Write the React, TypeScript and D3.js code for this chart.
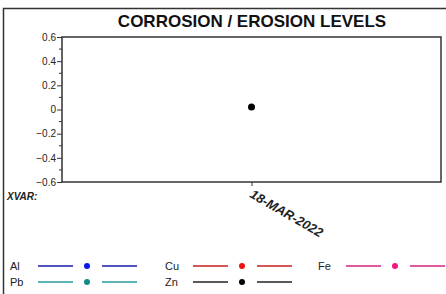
import React, { useRef, useEffect } from 'react';
import * as d3 from 'd3';

const dates = ['18-MAR-2022'];
const values = [0.02];
const yTicks = [-0.6, -0.4, -0.2, 0, 0.2, 0.4, 0.6];
const legendNames = ['Al', 'Cu', 'Fe', 'Pb', 'Zn'];
const legendLineColors = ['#1a1aa8', '#c81e1e', '#d6247a', '#2a9a98', '#222222'];
const legendDotColors = ['#0a14f0', '#f01010', '#f0167e', '#128a88', '#000000'];

const App = () => {
  const svgRef = useRef<SVGSVGElement>(null);

  useEffect(() => {
    const width = 446;
    const height = 294;
    const margin = { top: 37, right: 5, bottom: 112, left: 62 };

    const svg = d3.select(svgRef.current);
    svg.selectAll('*').remove();
    svg.attr('width', width).attr('height', height);

    // outer frame
    svg.append('rect')
      .attr('x', 3.5).attr('y', 8.5)
      .attr('width', width + 10).attr('height', height + 10)
      .attr('fill', 'none').attr('stroke', '#333').attr('stroke-width', 1.5);

    // title
    svg.append('text')
      .attr('x', 252).attr('y', 27)
      .attr('text-anchor', 'middle')
      .attr('font-family', 'Liberation Sans, Arial, sans-serif')
      .attr('font-weight', 'bold')
      .attr('font-size', 17)
      .attr('fill', '#111')
      .text('CORROSION / EROSION LEVELS');

    const x0 = margin.left;
    const x1 = width - margin.right;
    const y0 = margin.top;
    const y1 = height - margin.bottom;

    const x = d3.scalePoint().domain(dates).range([x0, x1]).padding(0.5);
    const y = d3.scaleLinear().domain([-0.6, 0.6]).range([y1, y0]);

    // plot frame
    svg.append('rect')
      .attr('x', x0).attr('y', y0)
      .attr('width', x1 - x0).attr('height', y1 - y0)
      .attr('fill', 'none').attr('stroke', '#333').attr('stroke-width', 1.5);

    // y axis
    const yAxis = svg.append('g')
      .attr('transform', `translate(${x0},0)`)
      .call(d3.axisLeft(y).tickValues(yTicks).tickSize(5).tickPadding(1)
        .tickFormat(d => (d === 0 ? '0' : d3.format('.1f')(d as number))));
    yAxis.select('.domain').remove();
    yAxis.selectAll('line').attr('stroke', '#333');
    yAxis.selectAll('text')
      .attr('font-family', 'Liberation Sans, Arial, sans-serif')
      .attr('font-size', 10).attr('fill', '#222');

    // minor ticks
    svg.append('g')
      .selectAll('line')
      .data(d3.range(-5, 6, 2).map(i => i / 10))
      .join('line')
      .attr('x1', x0 - 3).attr('x2', x0)
      .attr('y1', d => y(d)).attr('y2', d => y(d))
      .attr('stroke', '#333');

    // x axis
    const xAxis = svg.append('g')
      .attr('transform', `translate(0,${y1})`)
      .call(d3.axisBottom(x).tickSize(4).tickPadding(8));
    xAxis.select('.domain').remove();
    xAxis.selectAll('line').attr('stroke', '#333');
    xAxis.selectAll('text')
      .attr('font-family', 'Liberation Sans, Arial, sans-serif')
      .attr('font-size', 13)
      .attr('font-weight', 'bold')
      .attr('font-style', 'italic')
      .attr('letter-spacing', 0)
      .attr('fill', '#222')
      .attr('text-anchor', 'start')
      .attr('dy', '0.3em')
      .attr('transform', 'translate(5,1) rotate(30)');

    svg.append('text')
      .attr('x', 7).attr('y', 200)
      .attr('font-family', 'Liberation Sans, Arial, sans-serif')
      .attr('font-size', 10)
      .attr('font-weight', 'bold')
      .attr('font-style', 'italic')
      .attr('fill', '#222')
      .text('XVAR:');

    // data point
    svg.append('g')
      .selectAll('circle')
      .data(values)
      .join('circle')
      .attr('cx', (_, i) => x(dates[i]) as number)
      .attr('cy', d => y(d))
      .attr('r', 3.5)
      .attr('fill', '#000');

    // legend
    const cols = [10, 165, 318];
    const rows = [266, 282];
    const legend = svg.append('g')
      .selectAll('g')
      .data(legendNames)
      .join('g')
      .attr('transform', (_, i) => `translate(${cols[i % 3]},${rows[Math.floor(i / 3)]})`);
    legend.append('text')
      .attr('y', 4)
      .attr('font-family', 'Liberation Sans, Arial, sans-serif')
      .attr('font-size', 11)
      .attr('fill', '#222')
      .text(d => d);
    legend.append('line')
      .attr('x1', 28).attr('x2', 63).attr('y1', 0).attr('y2', 0)
      .attr('stroke', (_, i) => legendLineColors[i]).attr('stroke-width', 1.3);
    legend.append('circle')
      .attr('cx', 77).attr('cy', 0).attr('r', 3)
      .attr('fill', (_, i) => legendDotColors[i]);
    legend.append('line')
      .attr('x1', 92).attr('x2', 127).attr('y1', 0).attr('y2', 0)
      .attr('stroke', (_, i) => legendLineColors[i]).attr('stroke-width', 1.3);
  }, []);

  return (
    <svg
      ref={svgRef}
      style={{ position: 'fixed', left: 0, top: 0, background: '#fff' }}
    />
  );
};

export default App;
